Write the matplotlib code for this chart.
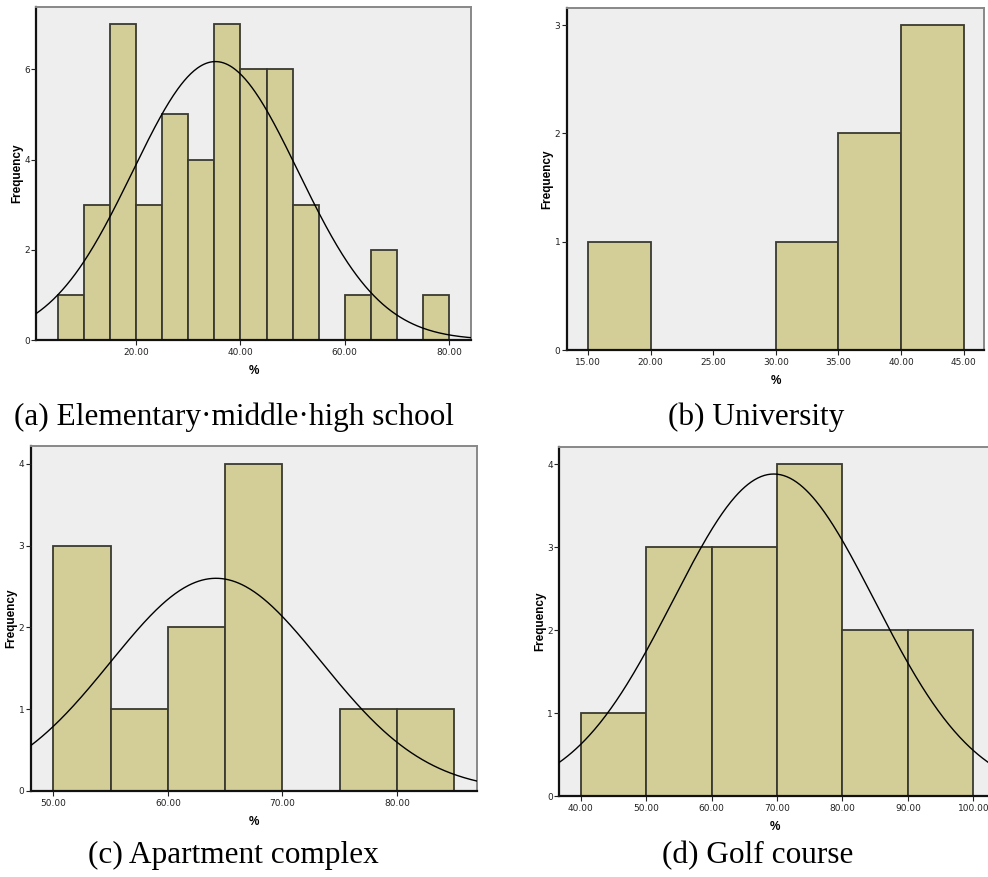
import numpy as np
import matplotlib
matplotlib.use("Agg")
import matplotlib.pyplot as plt
from matplotlib.ticker import FormatStrFormatter

W, H = 988, 877

# ---------------- data ----------------
# (a) Elementary·middle·high school
a_edges = [5, 10, 15, 20, 25, 30, 35, 40, 45, 50, 55, 60, 65, 70, 75]
a_counts = [1, 3, 7, 3, 5, 4, 7, 6, 6, 3, 0, 1, 2, 0, 1]
a_binw = 5
a_mean, a_sd = 35.2, 15.84
a_xticks = [20, 40, 60, 80]
a_yticks = [0, 2, 4, 6]

# (b) University
b_edges = [15, 20, 25, 30, 35, 40]
b_counts = [1, 0, 0, 1, 2, 3]
b_binw = 5
b_xticks = [15, 20, 25, 30, 35, 40, 45]
b_yticks = [0, 1, 2, 3]

# (c) Apartment complex
c_edges = [50, 55, 60, 65, 70, 75, 80]
c_counts = [3, 1, 2, 4, 0, 1, 1]
c_binw = 5
c_mean, c_sd = 64.2, 9.2
c_xticks = [50, 60, 70, 80]
c_yticks = [0, 1, 2, 3, 4]

# (d) Golf course
d_edges = [40, 50, 60, 70, 80, 90]
d_counts = [1, 3, 3, 4, 2, 2]
d_binw = 10
d_mean, d_sd = 69.5, 15.42
d_xticks = [40, 50, 60, 70, 80, 90, 100]
d_yticks = [0, 1, 2, 3, 4]

captions = ["(a) Elementary\u00b7middle\u00b7high school", "(b) University",
            "(c) Apartment complex", "(d) Golf course"]

# ---------------- style ----------------
BAR = "#D3CE98"
EDGE = "#3a3a30"
BG = "#EEEEEE"

fig = plt.figure(figsize=(W / 100, H / 100), dpi=100)
fig.patch.set_facecolor("white")


def make_ax(l, t, r, b):
    return fig.add_axes([l / W, 1 - b / H, (r - l) / W, (b - t) / H])


def style(ax, xlim, ylim, xticks, yticks, ylab_x_px):
    ax.set_facecolor(BG)
    ax.set_xlim(*xlim)
    ax.set_ylim(*ylim)
    ax.set_xticks(xticks)
    ax.set_yticks(yticks)
    ax.xaxis.set_major_formatter(FormatStrFormatter("%.2f"))
    ax.tick_params(axis="both", labelsize=6.5, length=3.5, width=0.8,
                   colors="#222222", pad=2)
    ax.tick_params(axis="y", pad=1)
    for s in ("left", "bottom"):
        ax.spines[s].set_color("#111111")
        ax.spines[s].set_linewidth(1.6)
    for s in ("top", "right"):
        ax.spines[s].set_color("#888888")
        ax.spines[s].set_linewidth(1.4)
    ax.set_xlabel("%", fontsize=8.5, fontweight="bold",
                  family="Liberation Sans", labelpad=6)
    ax.set_ylabel("Frequency", fontsize=8.5, fontweight="bold",
                  family="Liberation Sans")
    bb = ax.get_position()
    ax.yaxis.set_label_coords((ylab_x_px / W - bb.x0) / bb.width, 0.5)
    ax.set_axisbelow(False)


def bars(ax, edges, counts, w):
    e = np.array(edges, float)
    c = np.array(counts, float)
    m = c > 0
    ax.bar(e[m], c[m], width=w, align="edge", color=BAR, edgecolor=EDGE,
           linewidth=1.3, zorder=2)


def curve(ax, mean, sd, n, w):
    x0, x1 = ax.get_xlim()
    x = np.linspace(x0, x1, 400)
    y = n * w / (sd * np.sqrt(2 * np.pi)) * np.exp(-0.5 * ((x - mean) / sd) ** 2)
    ax.plot(x, y, color="black", lw=1.0, zorder=3)


# (a)
axa = make_ax(36, 7, 471, 340)
bars(axa, a_edges, a_counts, a_binw)
style(axa, (0.8, 84.2), (0, 7.38), a_xticks, a_yticks, 23)
curve(axa, a_mean, a_sd, sum(a_counts), a_binw)

# (b)
axb = make_ax(566.7, 8.3, 984.3, 350)
bars(axb, b_edges, b_counts, b_binw)
style(axb, (13.3, 46.65), (0, 3.155), b_xticks, b_yticks, 553)

# (c)
axc = make_ax(30.7, 446, 477.3, 791)
bars(axc, c_edges, c_counts, c_binw)
style(axc, (48.03, 87.0), (0, 4.22), c_xticks, c_yticks, 17)
curve(axc, c_mean, c_sd, sum(c_counts), c_binw)

# (d)
axd = make_ax(559, 446.7, 990, 796)
bars(axd, d_edges, d_counts, d_binw)
style(axd, (36.68, 102.55), (0, 4.21), d_xticks, d_yticks, 546)
axd.spines["right"].set_visible(False)
curve(axd, d_mean, d_sd, sum(d_counts), d_binw)

# captions
cap_pos = [(234, 425), (756.5, 425), (233.5, 863), (757.5, 863)]
for txt, (cx, cy) in zip(captions, cap_pos):
    fig.text(cx / W, 1 - cy / H, txt, ha="center", va="baseline",
             fontsize=22.5, family="Liberation Serif", color="black")

fig.savefig("out.png", dpi=100)
